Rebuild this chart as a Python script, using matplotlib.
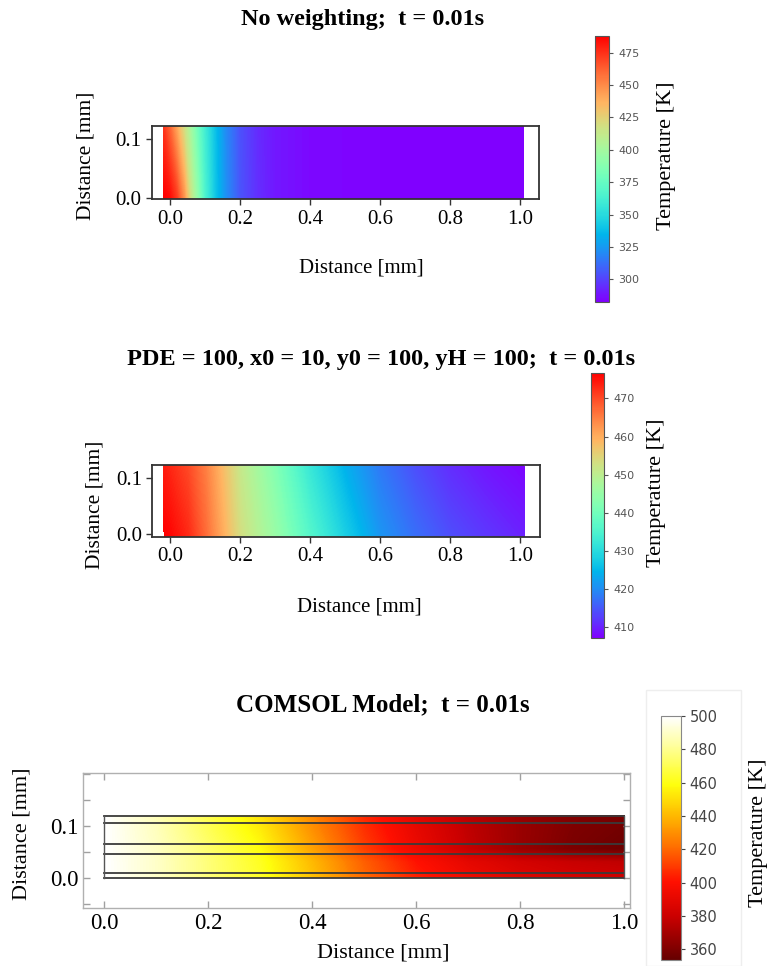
import numpy as np
import matplotlib.pyplot as plt
from matplotlib.colors import LinearSegmentedColormap, Normalize
from matplotlib.patches import Rectangle

plt.rcParams['font.family'] = ['Liberation Serif', 'DejaVu Serif']

# ---- panel 1: no weighting (T read along bottom / top edge of the strip)
x1 = [-0.019, 0.0, 0.02, 0.04, 0.06, 0.08, 0.10, 0.13, 0.16, 0.20, 0.25, 0.30, 0.40, 0.60, 1.012]
y1 = [-0.003, 0.123]
T1_bottom = [488, 485, 472, 448, 415, 390, 365, 340, 322, 305, 295, 289, 285, 283.5, 283]
T1_top = [474, 460, 440, 418, 398, 378, 360, 338, 320, 304, 294, 289, 285, 283.5, 283]
lim1 = (282.7, 487.9)
ticks1 = [300, 325, 350, 375, 400, 425, 450, 475]

# ---- panel 2: weighted PDE
x2 = [-0.019, 0.0, 0.05, 0.10, 0.15, 0.20, 0.30, 0.40, 0.50, 0.60, 0.70, 0.80, 0.90, 1.012]
y2 = [-0.004, 0.1225]
T2_bottom = [476.5, 476, 473, 467, 460, 453, 445, 436, 428, 421, 417, 414, 412, 410]
T2_top = [474, 473, 470, 465, 458, 451, 442, 432, 424, 418, 414, 411, 409, 407.5]
lim2 = (407.0, 476.6)
ticks2 = [410, 420, 430, 440, 450, 460, 470]

# ---- panel 3: COMSOL model
x3 = [0.0, 0.1, 0.2, 0.3, 0.4, 0.5, 0.6, 0.7, 0.8, 0.9, 1.0]
y3 = [0.0, 0.03, 0.055, 0.09, 0.12]
T3 = [
    [500, 490, 476, 463, 442, 420, 404, 394, 387, 383, 381],
    [500, 490, 476, 462, 440, 418, 401, 390, 383, 379, 377],
    [500, 489, 474, 458, 434, 411, 393, 378, 367, 359, 355],
    [500, 488, 471, 454, 430, 408, 391, 377, 367, 360, 357],
    [500, 487, 469, 451, 428, 406, 389, 376, 367, 361, 358],
]
layers3 = [0.0, 0.01, 0.045, 0.065, 0.105, 0.12]
lim3 = (353.6, 500)
ticks3 = [360, 380, 400, 420, 440, 460, 480, 500]

titles = ["No weighting;  t = 0.01s",
          "PDE = 100, x0 = 10, y0 = 100, yH = 100;  t = 0.01s",
          "COMSOL Model;  t = 0.01s"]

W, H = 769, 966
fig = plt.figure(figsize=(W / 100, H / 100), dpi=100)


def px_axes(left, top, right, bottom):
    return fig.add_axes([left / W, 1 - bottom / H, (right - left) / W, (bottom - top) / H])


def ftext(x, y, s, **kw):
    fig.text(x / W, 1 - y / H, s, ha='center', va='center', **kw)


def strip(ax, xs, ys, Z, lim, cmap):
    X, Y = np.meshgrid(xs, ys)
    Z = np.clip(np.array(Z, dtype=float), lim[0], lim[1])
    ax.contourf(X, Y, Z, levels=np.linspace(lim[0], lim[1], 256), cmap=cmap)


def cbar(cax, lim, cmap, ticks, size, color):
    sm = plt.cm.ScalarMappable(norm=Normalize(*lim), cmap=cmap)
    cb = fig.colorbar(sm, cax=cax)
    cb.set_ticks(ticks)
    cax.tick_params(labelsize=size, colors=color, length=3, width=0.8)
    for t in cax.get_yticklabels():
        t.set_fontfamily('DejaVu Sans')
        t.set_color(color)
    cb.outline.set_edgecolor('#555555')
    cb.outline.set_linewidth(0.8)
    return cb


def style_rainbow_axes(ax):
    ax.set_xticks([0.0, 0.2, 0.4, 0.6, 0.8, 1.0])
    ax.set_yticks([0.0, 0.1])
    ax.tick_params(labelsize=15, length=4, width=1, color='#333333')
    for sp in ax.spines.values():
        sp.set_color('#333333')
        sp.set_linewidth(1.3)


# ---------- panel 1
ax1 = px_axes(151.7, 126, 539, 199.3)
strip(ax1, x1, y1, [T1_bottom, T1_top], lim1, 'rainbow')
ax1.set_xlim(-0.052, 1.054)
ax1.set_ylim(-0.003, 0.123)
style_rainbow_axes(ax1)
cax1 = px_axes(595, 36, 609.3, 301.7)
cbar(cax1, lim1, 'rainbow', ticks1, 8, '#555555')
ftext(362.5, 20, titles[0], fontsize=17.5, fontweight='bold')
ftext(361.7, 268, "Distance [mm]", fontsize=15)
ftext(86, 156, "Distance [mm]", fontsize=15.5, rotation=90)
ftext(667, 156, "Temperature [K]", fontsize=16, rotation=90)

# ---------- panel 2
ax2 = px_axes(152.3, 465, 540, 536.7)
strip(ax2, x2, y2, [T2_bottom, T2_top], lim2, 'rainbow')
ax2.set_xlim(-0.052, 1.057)
ax2.set_ylim(-0.004, 0.1225)
style_rainbow_axes(ax2)
cax2 = px_axes(591, 373.3, 604.3, 638.3)
cbar(cax2, lim2, 'rainbow', ticks2, 8, '#555555')
ftext(381.5, 360, titles[1], fontsize=17.5, fontweight='bold')
ftext(359, 606.7, "Distance [mm]", fontsize=15)
ftext(95, 505, "Distance [mm]", fontsize=15.5, rotation=90)
ftext(657, 492.5, "Temperature [K]", fontsize=16, rotation=90)

# ---------- panel 3
thermal = LinearSegmentedColormap.from_list(
    'thermal_light',
    [(0.0, (0.40, 0.0, 0.0)), (0.18, (0.80, 0.0, 0.0)), (0.32, (1.0, 0.06, 0.0)),
     (0.45, (1.0, 0.40, 0.0)), (0.59, (1.0, 0.72, 0.0)), (0.72, (1.0, 1.0, 0.05)),
     (0.86, (1.0, 1.0, 0.55)), (1.0, (1.0, 1.0, 1.0))])

fig.patches.append(Rectangle((646 / W, 0), 95 / W, 1 - 690 / H, transform=fig.transFigure,
                             facecolor='white', edgecolor='#eeeeee', lw=1, zorder=-10))

ax3 = px_axes(83.3, 772.7, 630, 908.3)
strip(ax3, x3, y3, T3, lim3, thermal)
for yl in layers3:
    ax3.plot([0, 1], [yl, yl], color='#3a3a3a', lw=1.3)
ax3.plot([0, 0], [0, 0.12], color='#555555', lw=1.0)
ax3.plot([1, 1], [0, 0.12], color='#555555', lw=1.0)
ax3.set_xlim(-0.04, 1.011)
ax3.set_ylim(-0.059, 0.203)
ax3.set_xticks([0.0, 0.2, 0.4, 0.6, 0.8, 1.0])
ax3.set_yticks([-0.05, 0.0, 0.05, 0.1, 0.15, 0.2], ['', '0.0', '', '0.1', '', ''])
ax3.tick_params(direction='in', top=True, right=True, labelsize=16.5, length=5,
                width=1, color='#a0a0a0')
for sp in ax3.spines.values():
    sp.set_color('#b0b0b0')
    sp.set_linewidth(1.0)
cax3 = px_axes(661, 716, 680.7, 960)
cb3 = cbar(cax3, lim3, thermal, ticks3, 10.5, '#444444')
cb3.outline.set_edgecolor('#888888')
ftext(383, 705, titles[2], fontsize=18, fontweight='bold')
ftext(383, 953, "Distance [mm]", fontsize=16)
ftext(22, 834, "Distance [mm]", fontsize=16, rotation=90)
ftext(758, 833, "Temperature [K]", fontsize=16, rotation=90)

fig.savefig('out.png', dpi=100)
